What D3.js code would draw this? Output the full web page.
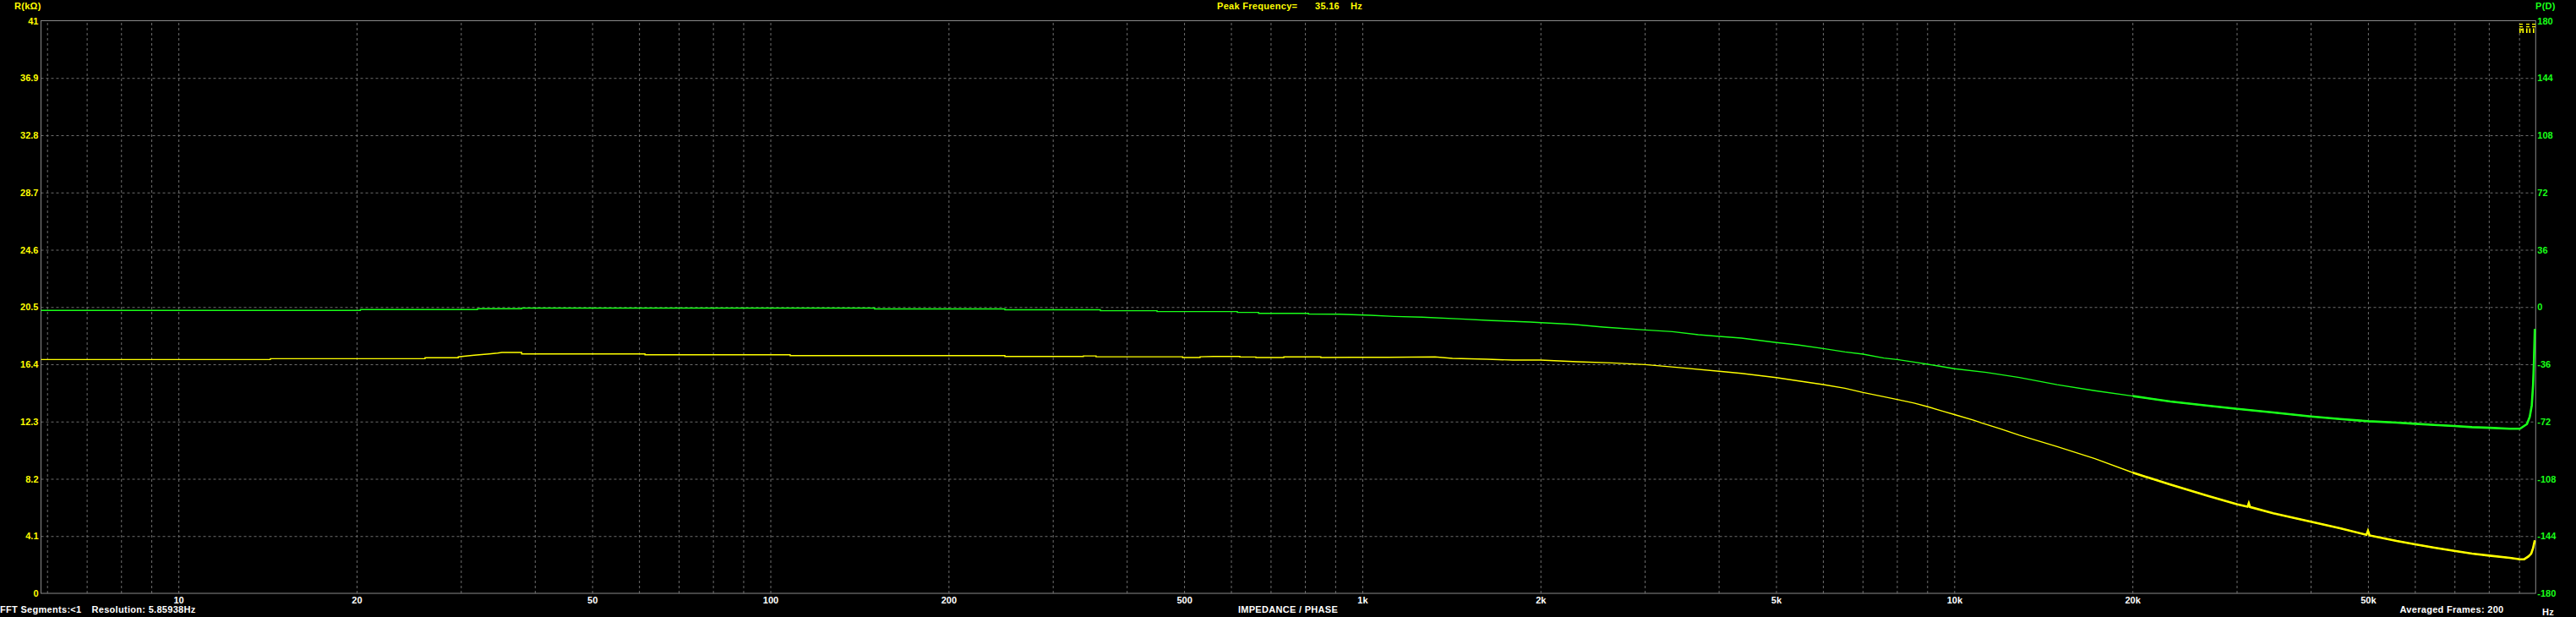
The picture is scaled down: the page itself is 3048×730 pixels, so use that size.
<!DOCTYPE html>
<html>
<head>
<meta charset="utf-8">
<script src="https://cdn.jsdelivr.net/npm/d3@7"></script>
<style>
  html, body { margin: 0; padding: 0; background: #000; }
  svg { display: block; }
  text { font-family: Arial, "Liberation Sans", sans-serif; font-weight: bold; font-size: 11px; }
</style>
</head>
<body>
<svg id="chart" width="3048" height="730"></svg>
<script>
// ---- data ----
// impedance magnitude, [frequency Hz, kOhm]
const impedance = [
  [5.86,16.74],[14.3,16.74],[14.3,16.80],[26.1,16.80],[26.1,16.87],[29.7,16.87],[29.7,16.93],
  [30.6,16.99],[31.6,17.05],[33.5,17.14],[34.6,17.20],[35.2,17.25],[38.0,17.25],[38.0,17.14],
  [61.4,17.14],[61.4,17.08],[108,17.08],[108,17.02],[249,17.02],[249,16.96],[338,16.96],[338,17.0],
  [355,17.0],[355,16.94],[497,16.94],[497,16.88],[532,16.88],[532,16.94],[561,16.96],[621,16.96],
  [621,16.92],[661,16.92],[661,16.88],[737,16.88],[737,16.93],[851,16.93],[851,16.88],[961,16.90],
  [1104,16.90],[1327,16.93],[1420,16.82],[1623,16.76],[1796,16.70],[1999,16.70],[2309,16.58],
  [2641,16.50],[3005,16.38],[3397,16.18],[4006,15.90],[4369,15.75],[5005,15.45],[5618,15.13],
  [6008,14.95],[6537,14.68],[7015,14.38],[7604,14.08],[8007,13.88],[8552,13.62],[9024,13.36],
  [9604,13.02],[10009,12.80],[10810,12.38],[11120,12.20],[11970,11.78],[12880,11.32],[14920,10.51],
  [17280,9.64],[20040,8.64],[23170,7.79],[26830,6.98],[30080,6.37],[31300,6.20],[31450,6.45],
  [31600,6.18],[34580,5.73],[40050,5.13],[44850,4.66],[49700,4.19],[50000,4.48],[50300,4.15],
  [55880,3.75],[60050,3.51],[64730,3.27],[69950,3.04],[74940,2.84],[80170,2.70],[86780,2.54],
  [90300,2.44],[91790,2.44],[93310,2.64],[94330,2.84],[95040,3.25],[95670,3.79]
];
// phase, [frequency Hz, degrees]
const phase = [
  [5.86,-2.15],[20.3,-2.15],[20.3,-1.62],[32,-1.62],[32,-1.09],[38,-1.09],[38,-0.65],[150,-0.65],
  [150,-1.2],[249,-1.2],[249,-1.75],[361,-1.75],[361,-2.3],[450,-2.3],[450,-2.84],[615,-2.84],
  [615,-3.4],[668,-3.4],[668,-3.96],[811,-3.96],[811,-4.4],[915,-4.5],[1032,-5.2],[1132,-5.9],
  [1262,-6.4],[1468,-7.5],[1651,-8.5],[1920,-9.4],[2035,-10.0],[2271,-10.9],[2553,-12.6],
  [3005,-14.4],[3341,-15.5],[3695,-17.4],[4006,-18.5],[4369,-19.5],[5005,-22.3],[5433,-23.8],
  [6008,-26.1],[6537,-28.2],[7015,-29.6],[7604,-32.1],[8007,-33.0],[8552,-34.6],[9024,-36.0],
  [10009,-38.8],[11334,-41.1],[12880,-44.3],[14920,-48.8],[17280,-52.6],[20040,-56.0],
  [23170,-59.4],[26830,-62.0],[30080,-64.0],[34580,-66.3],[40050,-68.8],[44850,-70.4],
  [50130,-71.8],[55880,-72.7],[60050,-73.4],[64730,-74.1],[69950,-74.8],[74940,-75.5],
  [80170,-75.9],[86780,-76.5],[90300,-76.5],[92790,-73.6],[93800,-69.1],[94540,-62.0],
  [95040,-48.8],[95360,-33.7],[95670,-13.8]
];

const freqTicks = [10, 20, 50, 100, 200, 500, 1000, 2000, 5000, 10000, 20000, 50000];
const freqLabels = ["10", "20", "50", "100", "200", "500", "1k", "2k", "5k", "10k", "20k", "50k"];
const leftTicks = [0, 4.1, 8.2, 12.3, 16.4, 20.5, 24.6, 28.7, 32.8, 36.9, 41];
const leftLabels = ["0", "4.1", "8.2", "12.3", "16.4", "20.5", "24.6", "28.7", "32.8", "36.9", "41"];
const rightTicks = [-180, -144, -108, -72, -36, 0, 36, 72, 108, 144, 180];
const rightLabels = ["-180", "-144", "-108", "-72", "-36", "0", "36", "72", "108", "144", "180"];

// ---- layout ----
const plotL = 48.5, plotR = 3000.3, plotT = 24.5, plotB = 702;
const YELLOW = "#ffff00", GREEN = "#19ff19", GRID = "#6e6e6e", FRAME = "#8a8a8a";

let svg = d3.select("#chart");
svg.append("rect").attr("width", 3048).attr("height", 730).attr("fill", "#000");

let x = d3.scaleLog().domain([5.859, 96000]).range([plotL, plotR]);
let yL = d3.scaleLinear().domain([0, 41]).range([plotB, plotT]);
let yR = d3.scaleLinear().domain([-180, 180]).range([plotB, plotT]);

// vertical grid: every 1..9 x decade inside the range
let gridFreqs = x.ticks().filter(f => f > 5.9 && f < 95000);
svg.append("g")
    .attr("transform", "translate(0," + plotB + ")")
    .call(d3.axisBottom(x).tickValues(gridFreqs).tickSize(-(plotB - plotT)).tickFormat(""))
    .call(g => g.select(".domain").remove())
    .call(g => g.selectAll("line")
        .attr("stroke", GRID).attr("stroke-dasharray", "3,3"));

// horizontal grid
svg.append("g")
    .attr("transform", "translate(" + plotL + ",0)")
    .call(d3.axisLeft(yL).tickValues(leftTicks.slice(1, -1)).tickSize(-(plotR - plotL)).tickFormat(""))
    .call(g => g.select(".domain").remove())
    .call(g => g.selectAll("line")
        .attr("stroke", GRID).attr("stroke-dasharray", "3,3"));

// frame
svg.append("rect")
    .attr("x", plotL).attr("y", plotT)
    .attr("width", plotR - plotL).attr("height", plotB - plotT)
    .attr("fill", "none").attr("stroke", FRAME).attr("stroke-width", 1);

function styleText(g, color) {
    g.select(".domain").remove();
    g.selectAll("text").attr("fill", color)
        .style("font-family", "Arial, 'Liberation Sans', sans-serif")
        .style("font-weight", "bold").style("font-size", "11px");
}

// left axis labels
svg.append("g")
    .attr("transform", "translate(" + (plotL - 3) + ",0)")
    .call(d3.axisLeft(yL).tickValues(leftTicks).tickSize(0).tickPadding(0)
        .tickFormat((d, i) => leftLabels[i]))
    .call(g => styleText(g, YELLOW));

// right axis labels
svg.append("g")
    .attr("transform", "translate(" + (plotR + 2) + ",0)")
    .call(d3.axisRight(yR).tickValues(rightTicks).tickSize(0).tickPadding(0)
        .tickFormat((d, i) => rightLabels[i]))
    .call(g => styleText(g, GREEN));

// bottom frequency labels
svg.append("g")
    .attr("transform", "translate(0," + (plotB + 4) + ")")
    .call(d3.axisBottom(x).tickValues(freqTicks).tickSize(0).tickPadding(0)
        .tickFormat((d, i) => freqLabels[i]))
    .call(g => styleText(g, "#fff"));

// ---- curves ----
let lineL = d3.line().x(d => x(d[0])).y(d => yL(d[1]));
let lineR = d3.line().x(d => x(d[0])).y(d => yR(d[1]));

let plot = svg.append("g");
plot.append("path").datum(phase)
    .attr("fill", "none").attr("stroke", GREEN).attr("stroke-width", 1.4)
    .attr("d", lineR);
plot.append("path").datum(phase.filter(d => d[0] >= 20000))
    .attr("fill", "none").attr("stroke", GREEN).attr("stroke-width", 2.6)
    .attr("d", lineR);
plot.append("path").datum(impedance)
    .attr("fill", "none").attr("stroke", YELLOW).attr("stroke-width", 1.4)
    .attr("d", lineL);
plot.append("path").datum(impedance.filter(d => d[0] >= 20000))
    .attr("fill", "none").attr("stroke", YELLOW).attr("stroke-width", 2.6)
    .attr("d", lineL);

// ---- header / footer texts ----
function label(txt, px, py, color, anchor) {
    svg.append("text").attr("x", px).attr("y", py)
        .attr("fill", color).attr("text-anchor", anchor || "start")
        .attr("letter-spacing", "0.3px")
        .text(txt);
}
label("R(k\u03a9)", 17, 11, YELLOW);
label("P(D)", 3000, 11, GREEN);
label("Peak Frequency=", 1440, 11, YELLOW);
label("35.16", 1556, 11, YELLOW);
label("Hz", 1598, 11, YELLOW);
label("FFT Segments:<1", 0, 725, "#fff");
label("Resolution: 5.85938Hz", 108.5, 725, "#fff");
label("IMPEDANCE / PHASE", 1524, 725, "#fff", "middle");
label("Averaged Frames: 200", 2901, 725, "#fff", "middle");
label("Hz", 3008, 728, "#fff");

// small status icon in the top right corner
let icon = svg.append("g").attr("fill", YELLOW);
[2981, 2989, 2996].forEach(px => {
    icon.append("rect").attr("x", px).attr("y", 28).attr("width", 4).attr("height", 1.3);
    icon.append("rect").attr("x", px).attr("y", 31).attr("width", 4).attr("height", 1.3);
});
[2981, 2984.5, 2989, 2992.5, 2997].forEach(px => {
    icon.append("rect").attr("x", px).attr("y", 33.5).attr("width", 1.6).attr("height", 5.5);
});
icon.append("path").attr("d", "M2982.5,34 L2985,34 L2983.8,37 Z");
</script>
</body>
</html>
